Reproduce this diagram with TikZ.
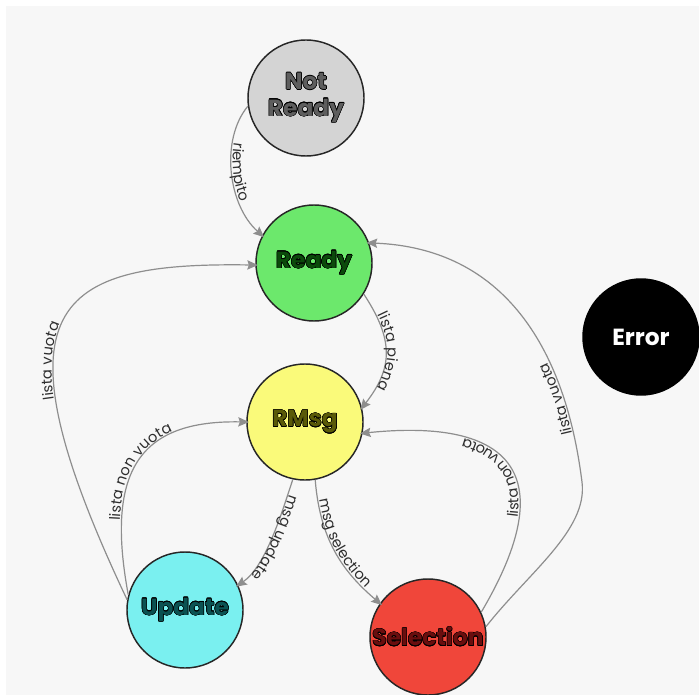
\documentclass[tikz,border=0pt]{standalone}
\usepackage{fontspec}
\setmainfont{Poppins}
\usepackage[copies]{contour}
\contourlength{0.4pt}
\usetikzlibrary{arrows.meta,decorations.text}

\definecolor{paper}{HTML}{F7F7F7}
\definecolor{edgegray}{HTML}{8E8E8E}
\definecolor{lbltext}{HTML}{2E2E2E}
\definecolor{nrfill}{HTML}{D4D4D4}
\definecolor{nrtext}{HTML}{5E5E5E}
\definecolor{rdfill}{HTML}{6CE86C}
\definecolor{rdtext}{HTML}{0B4A0B}
\definecolor{rmfill}{HTML}{FAFA7A}
\definecolor{rmtext}{HTML}{5A5A08}
\definecolor{upfill}{HTML}{7AF0F0}
\definecolor{uptext}{HTML}{0B5252}
\definecolor{selfill}{HTML}{F0463A}
\definecolor{seltext}{HTML}{6A0E0E}

\newcommand\lblfont{\fontsize{11}{13}\selectfont\color{lbltext}}
\newcommand\outl[1]{\contour{black}{#1}}

\begin{document}
\begin{tikzpicture}[x=0.75pt,y=-0.75pt,
  state/.style={circle,draw=black!85,line width=1.1pt,minimum size=87pt,inner sep=0pt,
    font=\bfseries\fontsize{17.5}{21}\selectfont,align=center},
  edge/.style={draw=edgegray,line width=0.9pt,shorten >=-2pt,
    -{Stealth[length=8pt,width=7pt,inset=1.2pt]}},
  lbl/.style={postaction={decorate,decoration={text along path,
    text={|\lblfont|#1},text align=center,raise=1.2pt}}}
]
\useasboundingbox (0,0) rectangle (699,695);
\fill[white] (0,0) rectangle (699,695);
\fill[paper] (6,6) rectangle (699,695);

% states
\node[state,fill=nrfill,text=nrtext] (nr) at (306,98) {\outl{Not}\\[-1pt]\outl{Ready}};
\node[state,fill=rdfill,text=rdtext] (rd) at (314,263) {\outl{Ready}};
\node[state,fill=rmfill,text=rmtext] (rm) at (305,422) {\outl{RMsg}};
\node[state,fill=upfill,text=uptext] (up) at (185,610) {\outl{Update}};
\node[state,fill=selfill,text=seltext] (sel) at (428,637) {\outl{Selection}};
\node[state,fill=black,draw=black,text=white] (err) at (641,337) {Error};

\coordinate (turn) at (582,482);

% transitions
\draw[edge,lbl={riempito}] (nr.188) .. controls (220,140) and (228,205) .. (rd.152);
\draw[edge,lbl={lista piena}] (rd.328) .. controls (394,340) and (393,368) .. (rm.14);
\draw[edge,lbl={lista vuota}] (up.170) .. controls (-13,304) and (55,262) .. (rd.182);
\draw[edge,lbl={lista non vuota}] (up.165) .. controls (105,470) and (140,420) .. (rm.180);
\draw[edge,lbl={msg update}] (rm.258) .. controls (282,512) and (266,566) .. (up.25);
\draw[edge,lbl={msg selection}] (rm.280) .. controls (320,539) and (342,571) .. (sel.145);
\draw[edge,lbl={lista non vuota}] (sel.25) .. controls (563,474) and (512,418) .. (rm.349);
\draw[edge,lbl={lista vuota}] (sel.10) .. controls (529,572) and (588,530) .. (turn)
  .. controls (574,420) and (545,250) .. (rd.20);
\end{tikzpicture}
\end{document}
